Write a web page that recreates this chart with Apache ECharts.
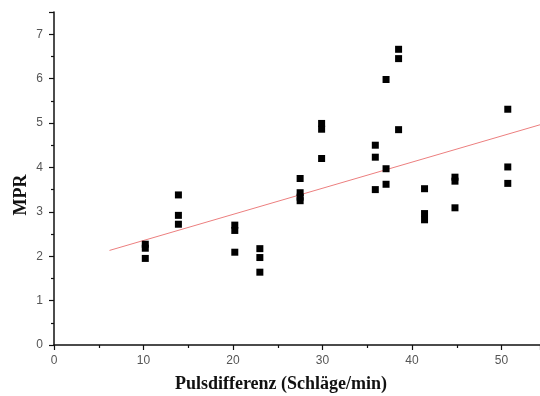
<!DOCTYPE html>
<html>
<head>
<meta charset="utf-8">
<script src="https://cdn.jsdelivr.net/npm/echarts@6/dist/echarts.min.js"></script>
<style>
html,body{margin:0;padding:0;background:#fff;}
#chart{width:540px;height:396px;}
</style>
</head>
<body>
<div id="chart"></div>
<script>
// Pulse difference (x) and MPR (y) observations
var pulsDiff = [10.2,10.2,10.2, 13.9,13.9,13.9, 20.2,20.2,20.2, 23.0,23.0,23.0,
  27.5,27.5,27.5,27.5, 29.9,29.9,29.9, 35.9,35.9,35.9, 37.1,37.1,37.1,
  38.5,38.5,38.5, 41.4,41.4,41.4, 44.8,44.8,44.8, 50.7,50.7,50.7];
var mpr = [2.27,2.18,1.95, 3.38,2.92,2.72, 2.70,2.58,2.09, 2.17,1.97,1.64,
  3.75,3.43,3.33,3.25, 4.99,4.86,4.20, 4.50,4.23,3.50, 5.98,3.97,3.62,
  6.66,6.45,4.85, 3.52,2.96,2.82, 3.78,3.69,3.09, 5.31,4.01,3.64];
// Regression line endpoints
var fitX = [6.2, 54.3];
var fitY = [2.13, 4.96];
var xTicks = [0, 10, 20, 30, 40, 50];
var yTicks = [0, 1, 2, 3, 4, 5, 6, 7];

var points = pulsDiff.map(function(x, i){ return [x, mpr[i]]; });
var fitLine = fitX.map(function(x, i){ return [x, fitY[i]]; });

var chart = echarts.init(document.getElementById('chart'), null, {renderer:'canvas'});
var axisCommon = {
  axisLine:{show:true, onZero:false, lineStyle:{color:'#111', width:1.5}},
  axisTick:{show:true, inside:false, length:5, lineStyle:{color:'#111', width:1.2}},
  minorTick:{show:true, splitNumber:2, length:3, lineStyle:{color:'#111', width:1.2}},
  splitLine:{show:false},
  axisLabel:{color:'#555', fontSize:12, fontFamily:'Liberation Sans, Arial, sans-serif', showMaxLabel:false}
};
chart.setOption({
  animation:false,
  backgroundColor:'#fff',
  grid:{left:54, right:0, top:12, bottom:51, containLabel:false},
  xAxis: echarts.util.merge({
    type:'value', min:0, max:54.3, interval:10,
    axisLabel:{margin:10, formatter:function(v){ return xTicks.indexOf(v) >= 0 ? String(v) : ''; }}
  }, axisCommon),
  yAxis: echarts.util.merge({
    type:'value', min:0, max:7.5, interval:1,
    axisLabel:{margin:11, formatter:function(v){ return yTicks.indexOf(v) >= 0 ? String(v) : ''; }}
  }, axisCommon),
  graphic:[
    {type:'text', x:281, y:384, style:{text:'Pulsdifferenz (Schläge/min)', font:'bold 18px "Liberation Serif", "Times New Roman", serif', fill:'#111', align:'center', verticalAlign:'middle'}},
    {type:'text', x:21, y:195, rotation:Math.PI/2, style:{text:'MPR', font:'bold 18px "Liberation Serif", "Times New Roman", serif', fill:'#111', align:'center', verticalAlign:'middle'}}
  ],
  series:[
    {type:'line', data:fitLine, symbol:'none', silent:true,
     lineStyle:{color:'#ec7f7f', width:1}, z:1},
    {type:'scatter', data:points, symbol:'rect', symbolSize:[7,7],
     itemStyle:{color:'#000', opacity:1}, z:2}
  ]
});
</script>
</body>
</html>
